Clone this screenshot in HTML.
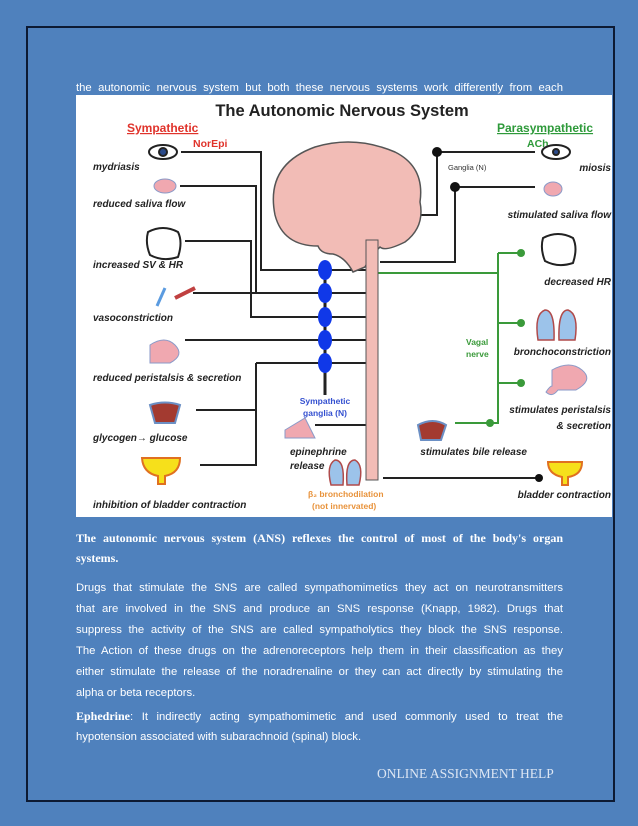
<!DOCTYPE html>
<html><head><meta charset="utf-8"><style>
body{margin:0;width:638px;height:826px;background:#4f81bd;position:relative;overflow:hidden;font-family:"Liberation Sans",sans-serif}
.frame{position:absolute;left:26px;top:26px;width:585px;height:772px;border:2px solid #0d1a33}
.l{position:absolute;left:76px;width:487px;color:#fff;font-size:11.3px;text-align:justify;text-align-last:justify;white-space:nowrap;line-height:14px}
.b{font-family:"Liberation Serif",serif;font-weight:bold;font-size:12px}
svg text{font-family:"Liberation Sans",sans-serif}
</style></head><body>
<div class="frame"></div>
<div class="l" style="top:81px">the autonomic nervous system but both these nervous systems work differently from each</div>
<svg style="position:absolute;left:0;top:0" width="638" height="826">
<rect x="76" y="95" width="536" height="422" fill="#fff"/>
<text x="342" y="116" font-size="16.5" font-weight="bold" text-anchor="middle" fill="#222">The Autonomic Nervous System</text>
<text x="127" y="132" font-size="12" font-weight="bold" fill="#e0332b" text-decoration="underline">Sympathetic</text>
<text x="193" y="147" font-size="10.5" font-weight="bold" fill="#e0332b">NorEpi</text>
<text x="497" y="132" font-size="12" font-weight="bold" fill="#2e9a3a" text-decoration="underline">Parasympathetic</text>
<text x="527" y="147" font-size="10.5" font-weight="bold" fill="#2e9a3a">ACh</text>
<g fill="none" stroke="#222" stroke-width="2">
<path d="M181 152H261V270H368"/><path d="M180 186H256V293H368M193 293H256"/><path d="M185 241H251V317H368"/>
<path d="M185 340H368"/><path d="M256 363H368M256 363V465H200M196 410H256"/>
<path d="M315 425H375M383 478H540"/><path d="M345 215H437V152H535M380 262H455V187H535"/>
<path d="M325 270V395" stroke-width="3"/>
</g>
<g fill="none" stroke="#3a9a3a" stroke-width="2"><path d="M378 273H498M498 253V423H455M498 253H521M498 323H521M498 383H521"/></g>
<g fill="#3a9a3a"><circle cx="521" cy="253" r="4"/><circle cx="521" cy="323" r="4"/><circle cx="521" cy="383" r="4"/><circle cx="490" cy="423" r="4"/></g>
<g fill="#111"><circle cx="437" cy="152" r="5"/><circle cx="455" cy="187" r="5"/><circle cx="539" cy="478" r="4"/></g>
<path d="M275 215q-10-50 40-68q40-12 80 5q30 15 25 50q5 25-15 40q-20 10-25 5q-10 10-15 20l-12 5q-8-15-20-18q-12 0-15-8q-35 0-43-31z" fill="#f2bcb6" stroke="#555" stroke-width="1.5"/>
<path d="M366 240h12v240h-12z" fill="#f2bcb6" stroke="#555"/>
<g fill="#1038e8"><ellipse cx="325" cy="270" rx="7" ry="10"/><ellipse cx="325" cy="293" rx="7" ry="10"/><ellipse cx="325" cy="317" rx="7" ry="10"/><ellipse cx="325" cy="340" rx="7" ry="10"/><ellipse cx="325" cy="363" rx="7" ry="10"/></g>
<text x="325" y="404" font-size="8.5" font-weight="bold" fill="#3450d0" text-anchor="middle">Sympathetic</text>
<text x="325" y="416" font-size="8.5" font-weight="bold" fill="#3450d0" text-anchor="middle">ganglia (N)</text>
<text x="466" y="345" font-size="8.5" font-weight="bold" fill="#3a9a3a">Vagal</text>
<text x="466" y="357" font-size="8.5" font-weight="bold" fill="#3a9a3a">nerve</text>
<text x="308" y="497" font-size="8.5" font-weight="bold" fill="#e8923a">β₂ bronchodilation</text>
<text x="312" y="509" font-size="8.5" font-weight="bold" fill="#e8923a">(not innervated)</text>
<text x="448" y="170" font-size="7.5" fill="#333">Ganglia (N)</text>
<g font-size="10" font-weight="bold" font-style="italic" fill="#222">
<text x="93" y="170">mydriasis</text><text x="93" y="207">reduced saliva flow</text><text x="93" y="268">increased SV &amp; HR</text>
<text x="93" y="321">vasoconstriction</text><text x="93" y="381">reduced peristalsis &amp; secretion</text>
<text x="93" y="441">glycogen→ glucose</text><text x="93" y="508">inhibition of bladder contraction</text>
<text x="290" y="455">epinephrine</text><text x="290" y="469">release</text>
</g>
<g font-size="10" font-weight="bold" font-style="italic" fill="#222" text-anchor="end">
<text x="611" y="171">miosis</text><text x="611" y="218">stimulated saliva flow</text><text x="611" y="285">decreased HR</text>
<text x="611" y="355">bronchoconstriction</text><text x="611" y="413">stimulates peristalsis</text><text x="611" y="429">&amp; secretion</text>
<text x="527" y="455">stimulates bile release</text><text x="611" y="498">bladder contraction</text>
</g>
<g stroke="#222" stroke-width="2">
<ellipse cx="163" cy="152" rx="14" ry="7" fill="#fff"/><circle cx="163" cy="152" r="4" fill="#2a4a8a"/>
<ellipse cx="556" cy="152" rx="14" ry="7" fill="#fff"/><circle cx="556" cy="152" r="3" fill="#2a4a8a"/>
<path d="M148 232q15-8 30 0q5 10 0 25q-15 5-28-2q-5-12-2-23z" fill="#fff"/><path d="M543 238q15-8 30 0q5 10 0 25q-15 5-28-2q-5-12-2-23z" fill="#fff"/>
<path d="M150 405q15-5 30 0l-5 18h-20z" fill="#a33a30" stroke="#6b8fc4"/><path d="M418 425q15-8 28 0l-5 15h-20z" fill="#a33a30" stroke="#6b8fc4"/>
<path d="M142 458h38q0 15-15 18v8h-7v-8q-15-3-16-18z" fill="#f6e01b" stroke="#e07020"/><path d="M548 462h34q0 13-14 15v8h-6v-8q-14-3-14-15z" fill="#f6e01b" stroke="#e07020"/>
</g>
<g fill="#f0a8b0" stroke="#8a9ac8"><ellipse cx="165" cy="186" rx="11" ry="7"/><ellipse cx="553" cy="189" rx="9" ry="7"/>
<path d="M150 345q15-10 25 0t-5 18h-20z"/><path d="M552 370q18-10 30 0t-6 20h-18q-6 8-12 2q4-6 6-6z"/>
<path d="M285 430l20-12 10 20h-30z"/></g>
<path d="M175 298l20-10" stroke="#c04040" stroke-width="4"/><path d="M165 288l-8 18" stroke="#5b9be0" stroke-width="3"/>
<g fill="#9cc3ea" stroke="#b04a4a" stroke-width="1.5"><path d="M335 460q10 0 8 25h-12q-5-20 4-25zM355 460q-10 0-8 25h12q5-20-4-25z"/>
<path d="M545 310q10 0 9 30h-16q-4-26 7-30zM568 310q-10 0-9 30h16q4-26-7-30z"/></g>
</svg>
<div class="l b" style="top:531px">The autonomic nervous system (ANS) reflexes the control of most of the body's organ</div>
<div class="l b" style="top:551px;text-align-last:left">systems.</div>
<div class="l" style="top:581px">Drugs that stimulate the SNS are called sympathomimetics they act on neurotransmitters</div>
<div class="l" style="top:602px">that are involved in the SNS and produce an SNS response (Knapp, 1982). Drugs that</div>
<div class="l" style="top:623px">suppress the activity of the SNS are called sympatholytics they block the SNS response.</div>
<div class="l" style="top:644px">The Action of these drugs on the adrenoreceptors help them in their classification as they</div>
<div class="l" style="top:665px">either stimulate the release of the noradrenaline or they can act directly by stimulating the</div>
<div class="l" style="top:686px;text-align-last:left">alpha or beta receptors.</div>
<div class="l" style="top:709px"><span class="b">Ephedrine</span>: It indirectly acting sympathomimetic and used commonly used to treat the</div>
<div class="l" style="top:730px;text-align-last:left">hypotension associated with subarachnoid (spinal) block.</div>
<div style="position:absolute;left:377px;top:766px;color:#dde6f3;font-family:'Liberation Serif',serif;font-size:13.5px">ONLINE ASSIGNMENT HELP</div>
</body></html>
